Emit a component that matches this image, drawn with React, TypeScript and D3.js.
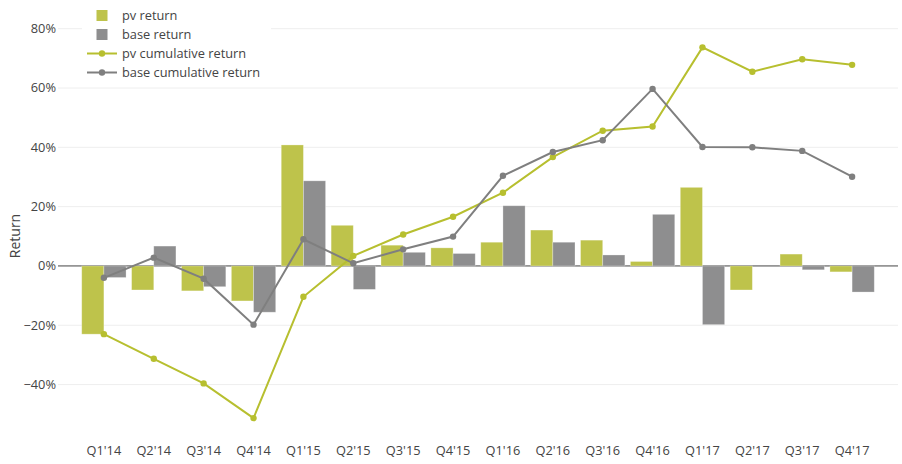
import React from 'react';
import * as d3 from 'd3';

const quarters = ["Q1'14", "Q2'14", "Q3'14", "Q4'14", "Q1'15", "Q2'15", "Q3'15", "Q4'15",
  "Q1'16", "Q2'16", "Q3'16", "Q4'16", "Q1'17", "Q2'17", "Q3'17", "Q4'17"];

const pvReturn = [-0.230, -0.081, -0.084, -0.118, 0.408, 0.137, 0.070, 0.061,
  0.080, 0.121, 0.087, 0.015, 0.265, -0.081, 0.040, -0.020];
const baseReturn = [-0.039, 0.067, -0.070, -0.156, 0.287, -0.079, 0.046, 0.042,
  0.203, 0.080, 0.037, 0.174, -0.198, 0.0, -0.013, -0.088];
const pvCumulative = [-0.230, -0.313, -0.396, -0.513, -0.104, 0.034, 0.106, 0.166,
  0.247, 0.367, 0.456, 0.470, 0.737, 0.655, 0.697, 0.678];
const baseCumulative = [-0.040, 0.028, -0.043, -0.198, 0.090, 0.009, 0.056, 0.099,
  0.304, 0.384, 0.424, 0.597, 0.401, 0.400, 0.388, 0.301];
const yTicks = [-0.4, -0.2, 0, 0.2, 0.4, 0.6, 0.8];

const PV_BAR = '#bec34b';
const BASE_BAR = '#8e8e8f';
const PV_LINE = '#b7bf2f';
const BASE_LINE = '#7f7f7f';
const FONT = "'Open Sans', 'Noto Sans', sans-serif";
const FS = 12.8;

export default function App() {
  const width = 902;
  const height = 464;
  const plot = { left: 58, right: 898, top: 10, bottom: 435 };

  const x = d3.scaleBand<string>()
    .domain(quarters)
    .range([plot.left, plot.right])
    .paddingInner(0)
    .paddingOuter(0.42);

  const inner = d3.scaleBand<string>()
    .domain(['pv', 'base'])
    .range([0, x.bandwidth()])
    .paddingInner(0)
    .paddingOuter(0.125);

  const y = d3.scaleLinear()
    .domain([-0.57, 0.863])
    .range([plot.bottom, plot.top]);

  const fmt = d3.format('.0%');
  const cx = (q: string) => x(q)! + x.bandwidth() / 2;

  const line = d3.line<number>()
    .x((_, i) => cx(quarters[i]))
    .y(d => y(d));

  const bars = (vals: number[], key: string, color: string) =>
    vals.map((v, i) => (
      <rect
        key={key + i}
        x={x(quarters[i])! + inner(key)!}
        y={Math.min(y(v), y(0))}
        width={inner.bandwidth()}
        height={Math.abs(y(v) - y(0))}
        fill={color}
        stroke="#ffffff"
        strokeOpacity={0.35}
        strokeWidth={0.8}
      />
    ));

  const legendItems = [
    { label: 'pv return', type: 'bar', color: PV_BAR },
    { label: 'base return', type: 'bar', color: BASE_BAR },
    { label: 'pv cumulative return', type: 'line', color: PV_LINE },
    { label: 'base cumulative return', type: 'line', color: BASE_LINE },
  ];

  return (
    <svg width={width} height={height} style={{ position: 'absolute', left: 0, top: 0, background: '#fff' }}
      fontFamily={FONT}>
      {/* grid */}
      {yTicks.filter(t => t !== 0).map(t => (
        <line key={t} x1={plot.left} x2={plot.right} y1={y(t)} y2={y(t)} stroke="#eeeeee" strokeWidth={1} />
      ))}
      {/* y labels */}
      {yTicks.map(t => (
        <text key={'yl' + t} x={56} y={y(t)} dy="0.35em" textAnchor="end" fontSize={FS} fill="#444">
          {fmt(t)}
        </text>
      ))}
      <text transform={`translate(20,236) rotate(-90)`} textAnchor="middle" fontSize={14} fill="#444">Return</text>
      {/* x labels */}
      {quarters.map(q => (
        <text key={'xl' + q} x={cx(q)} y={451} dy="0.35em" textAnchor="middle" fontSize={FS} fill="#444">{q}</text>
      ))}
      {/* zero line */}
      <line x1={plot.left} x2={plot.right} y1={y(0)} y2={y(0)} stroke="#444" strokeWidth={1} />
      {/* bars */}
      {bars(pvReturn, 'pv', PV_BAR)}
      {bars(baseReturn, 'base', BASE_BAR)}
      {/* lines */}
      <path d={line(pvCumulative)!} fill="none" stroke={PV_LINE} strokeWidth={2} />
      {pvCumulative.map((v, i) => (
        <circle key={'pc' + i} cx={cx(quarters[i])} cy={y(v)} r={3.2} fill={PV_LINE} />
      ))}
      <path d={line(baseCumulative)!} fill="none" stroke={BASE_LINE} strokeWidth={2} />
      {baseCumulative.map((v, i) => (
        <circle key={'bc' + i} cx={cx(quarters[i])} cy={y(v)} r={3.2} fill={BASE_LINE} />
      ))}
      {/* legend */}
      <rect x={82} y={0} width={189} height={84} fill="#ffffff" />
      {legendItems.map((d, i) => {
        const cy = 15.5 + i * 19;
        return (
          <g key={d.label}>
            {d.type === 'bar' ? (
              <rect x={96.5} y={cy - 5.5} width={11} height={11} fill={d.color} />
            ) : (
              <g>
                <line x1={87} x2={117} y1={cy} y2={cy} stroke={d.color} strokeWidth={2} />
                <circle cx={102} cy={cy} r={3.2} fill={d.color} />
              </g>
            )}
            <text x={122} y={cy} dy="0.35em" fontSize={FS} fill="#444">{d.label}</text>
          </g>
        );
      })}
    </svg>
  );
}
